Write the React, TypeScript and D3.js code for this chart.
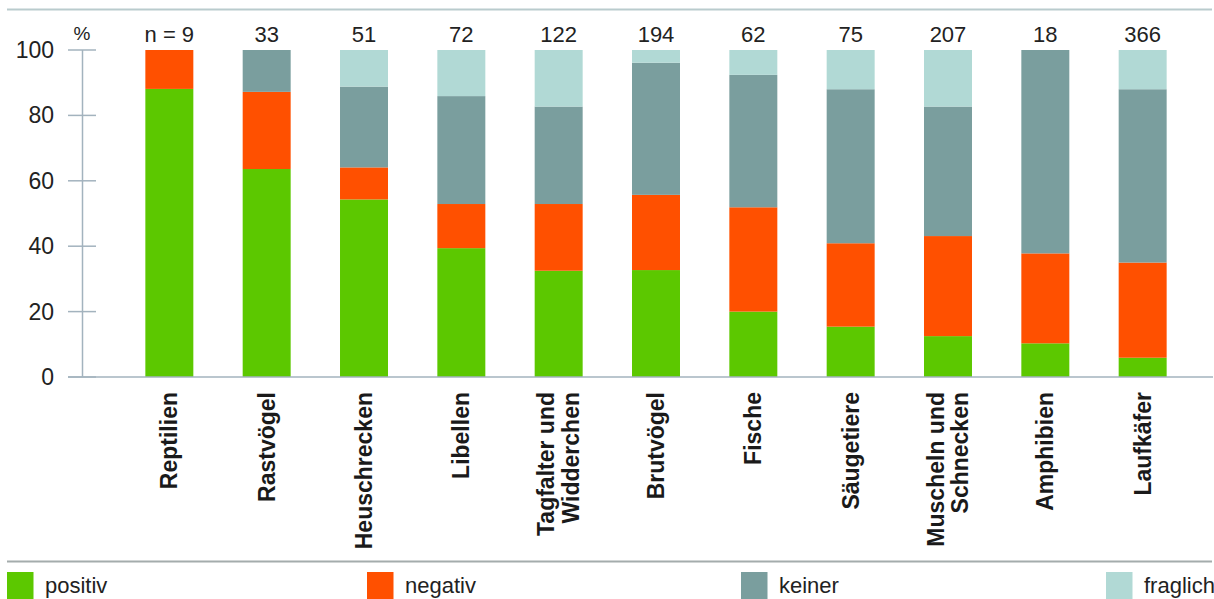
import React from "react";
import * as d3 from "d3";

// Species groups (x axis), with line breaks for two-line labels
const categories = [
  "Reptilien",
  "Rastvögel",
  "Heuschrecken",
  "Libellen",
  "Tagfalter und\nWidderchen",
  "Brutvögel",
  "Fische",
  "Säugetiere",
  "Muscheln und\nSchnecken",
  "Amphibien",
  "Laufkäfer",
];

// Number of studies per group
const sampleSizes = [9, 33, 51, 72, 122, 194, 62, 75, 207, 18, 366];

// Share of effects in percent
const positiv = [88.1, 63.6, 54.3, 39.4, 32.5, 32.7, 20.0, 15.4, 12.5, 10.3, 5.9];
const negativ = [11.9, 23.6, 9.8, 13.5, 20.4, 23.0, 31.9, 25.5, 30.6, 27.5, 29.1];
const keiner = [0, 12.8, 24.7, 33.0, 29.8, 40.4, 40.5, 47.1, 39.6, 62.2, 53.0];
const fraglich = [0, 0, 11.2, 14.1, 17.3, 3.9, 7.6, 12.0, 17.3, 0, 12.0];

const yTicks = [0, 20, 40, 60, 80, 100];

const seriesKeys = ["positiv", "negativ", "keiner", "fraglich"];
const seriesColors: Record<string, string> = {
  positiv: "#5cc800",
  negativ: "#ff5000",
  keiner: "#7a9e9e",
  fraglich: "#b1d9d5",
};
const legendX = [7, 367, 741, 1106];

const W = 1214;
const H = 599;
const FONT = "'Liberation Sans', Arial, sans-serif";

export default function App() {
  const rows = categories.map((c, i) => ({
    cat: c,
    positiv: positiv[i],
    negativ: negativ[i],
    keiner: keiner[i],
    fraglich: fraglich[i],
  }));

  const stack = d3.stack<any>().keys(seriesKeys);
  const layers = stack(rows);

  const x = d3.scaleBand<string>().domain(categories).range([96, 1216]).padding(0.507);
  const y = d3.scaleLinear().domain([0, 100]).range([377, 50]);
  const bw = x.bandwidth();

  const axisColor = "#a3b3be";

  return (
    <svg
      width={W}
      height={H}
      style={{ position: "absolute", left: 0, top: 0, background: "#fff" }}
      fontFamily={FONT}
    >
      {/* top rule */}
      <line x1={7} x2={1212} y1={9.5} y2={9.5} stroke="#b9cbcd" strokeWidth={2} />

      {/* bars */}
      {layers.map((layer) => (
        <g key={layer.key} fill={seriesColors[layer.key]}>
          {layer.map((d, i) => {
            const h = y(d[0]) - y(d[1]);
            if (h <= 0) return null;
            return (
              <rect
                key={i}
                x={x(categories[i])}
                y={y(d[1])}
                width={bw}
                height={h}
              />
            );
          })}
        </g>
      ))}

      {/* y axis */}
      <line x1={82.5} x2={82.5} y1={y(100)} y2={y(0)} stroke={axisColor} strokeWidth={1.5} />
      <line x1={68} x2={1213} y1={y(0)} y2={y(0)} stroke={axisColor} strokeWidth={1.5} />
      {yTicks.map((t) => (
        <g key={t}>
          <line x1={68} x2={96} y1={y(t)} y2={y(t)} stroke={axisColor} strokeWidth={1.5} />
          <text
            x={54}
            y={y(t)}
            dy="0.35em"
            textAnchor="end"
            fontSize={23}
            fill="#222"
          >
            {t}
          </text>
        </g>
      ))}
      <text x={82} y={33.5} dy="0.35em" textAnchor="middle" fontSize={19} fill="#222">
        %
      </text>

      {/* sample sizes above bars */}
      {sampleSizes.map((n, i) => (
        <text
          key={i}
          x={(x(categories[i]) as number) + bw / 2}
          y={34.5}
          dy="0.35em"
          textAnchor="middle"
          fontSize={22}
          fill="#222"
        >
          {i === 0 ? `n = ${n}` : n}
        </text>
      ))}

      {/* rotated category labels */}
      {categories.map((c, i) => {
        const cx = (x(c) as number) + bw / 2;
        const lines = c.split("\n");
        const lh = 24.5;
        return (
          <g key={c} transform={`translate(${cx},392) rotate(-90)`}>
            {lines.map((ln, j) => (
              <text
                key={j}
                x={0}
                y={(j - (lines.length - 1) / 2) * lh}
                dy="0.35em"
                textAnchor="end"
                fontSize={23}
                fontWeight="bold"
                fill="#1a1a1a"
              >
                {ln}
              </text>
            ))}
          </g>
        );
      })}

      {/* legend */}
      <line x1={7} x2={1212} y1={561.5} y2={561.5} stroke="#a4acac" strokeWidth={2} />
      {seriesKeys.map((k, i) => (
        <g key={k}>
          <rect x={legendX[i]} y={572} width={26.5} height={27} fill={seriesColors[k]} />
          <text x={legendX[i] + 38} y={593} fontSize={22} fill="#222">
            {k}
          </text>
        </g>
      ))}
    </svg>
  );
}
